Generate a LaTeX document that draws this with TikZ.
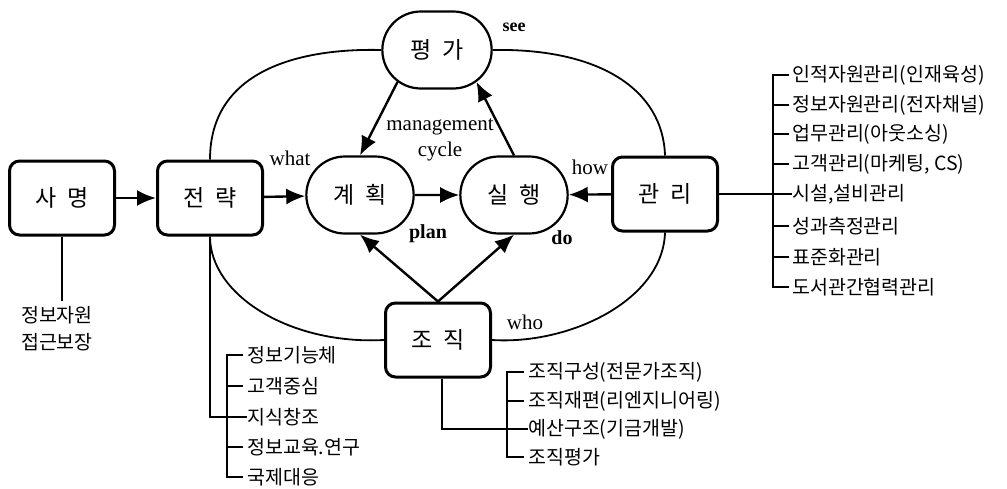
\documentclass[tikz,border=0pt]{standalone}
\usepackage{fontspec}
\setmainfont{Liberation Serif}
\newfontfamily\kr{Noto Sans CJK KR}
\usetikzlibrary{arrows.meta,shapes.misc}
\begin{document}
\begin{tikzpicture}[x=1pt,y=-1pt,>={Latex[length=19pt,width=16pt]},
  box/.style={draw,line width=3pt,rounded corners=10pt,minimum width=105pt,minimum height=74pt,font=\kr\fontsize{23}{26}\selectfont},
  cyc/.style={draw,rounded rectangle,line width=2.2pt,minimum width=114pt,minimum height=77pt,font=\kr\fontsize{23}{26}\selectfont},
  item/.style={anchor=west,inner sep=0pt,font=\kr\fontsize{19.5}{22}\selectfont},
  lbl/.style={font=\fontsize{21}{26}\selectfont},
  blbl/.style={font=\bfseries\fontsize{20}{24}\selectfont},
  arr/.style={->,line width=2.4pt},
  loopline/.style={line width=1.8pt},
  thin/.style={line width=1.1pt}]
\useasboundingbox (0,0) rectangle (1007,488);
% main nodes
\path
(62,198)  node[box] (sa) {사\hspace{0.45em}명}
(210,198) node[box] (jr) {전\hspace{0.45em}략}
(360,195) node[cyc] (gh) {계\hspace{0.45em}획}
(514,195) node[cyc] (sh) {실\hspace{0.45em}행}
(437,50)  node[cyc,minimum width=116pt] (pg) {평\hspace{0.45em}가}
(665,194) node[box] (gl) {관\hspace{0.45em}리}
(438,340) node[box] (jj) {조\hspace{0.45em}직};
% labels
\path
(514,27)  node[blbl,font=\bfseries\fontsize{18}{20}\selectfont] (see) {see}
(290,158) node[lbl] (what) {what}
(440,140) node[lbl,align=center] (mc) {management\\cycle}
(590,167) node[lbl] (how) {how}
(428,234) node[blbl] (plan) {plan}
(562,238) node[blbl] (do) {do}
(525,322) node[lbl] (who) {who};
% cycle arrows
\draw[arr] (sa)--(jr);
\draw[arr] (jr)--(gh);
\draw[arr] (gh)--(sh);
\draw[arr] (gl)--(sh);
\draw[arr] (pg.219)--(gh.north);
\draw[arr] (sh.north)--(pg.321);
\draw[arr] (jj.north)--(gh.south);
\draw[arr] (jj.north)--(sh.south);
% outer loop
\draw[loopline] (jr.north) .. controls (210,70) and (300,48) .. (pg.west);
\draw[loopline] (pg.east) .. controls (600,48) and (663,90) .. (gl.north);
\draw[loopline] (gl.south) .. controls (663,300) and (570,345) .. (jj.east);
\draw[loopline] (jj.west) .. controls (290,345) and (210,295) .. (jr.south);
% mission
\path (57,329) node[align=center,inner sep=6pt,font=\kr\fontsize{19.5}{27}\selectfont] (ma) {정보자원\\접근보장};
\draw[thin] (sa.south)--(sa.south |- ma.north);
% strategy list
\path
(247,355) node[item] (s1) {정보기능체}
(247,386) node[item] (s2) {고객중심}
(247,417) node[item] (s3) {지식창조}
(247,447) node[item] (s4) {정보교육.연구}
(247,477) node[item] (s5) {국제대응};
\draw[thin] (jr.south) |- (s3.west);
\draw[thin] ([xshift=-4]s1.west) -- ++(-16,0) |- ([xshift=-4]s5.west);
\draw[thin] ([xshift=-4]s2.west) -- ++(-16,0);
\draw[thin] ([xshift=-4]s4.west) -- ++(-16,0);
% organisation list
\path
(528,372) node[item] (o1) {조직구성(전문가조직)}
(528,401) node[item] (o2) {조직재편(리엔지니어링)}
(528,429) node[item] (o3) {예산구조(기금개발)}
(528,457) node[item] (o4) {조직평가};
\draw[thin] ([xshift=4]jj.south) |- (o3.west);
\draw[thin] ([xshift=-4]o1.west) -- ++(-17,0) |- ([xshift=-4]o4.west);
\draw[thin] ([xshift=-4]o2.west) -- ++(-17,0);
% management list
\path
(792,75)  node[item] (m1) {인적자원관리(인재육성)}
(792,105) node[item] (m2) {정보자원관리(전자채널)}
(792,134) node[item] (m3) {업무관리(아웃소싱)}
(792,164) node[item] (m4) {고객관리(마케팅, CS)}
(792,194) node[item] (m5) {시설,설비관리}
(792,226) node[item] (m6) {성과측정관리}
(792,257) node[item] (m7) {표준화관리}
(792,287) node[item] (m8) {도서관간협력관리};
\draw[thin] (gl.east) -- (m5.west);
\draw[thin] ([xshift=-3]m1.west) -- ++(-16,0) |- ([xshift=-3]m8.west);
\draw[thin] ([xshift=-3]m2.west) -- ++(-16,0);
\draw[thin] ([xshift=-3]m3.west) -- ++(-16,0);
\draw[thin] ([xshift=-3]m4.west) -- ++(-16,0);
\draw[thin] ([xshift=-3]m6.west) -- ++(-16,0);
\draw[thin] ([xshift=-3]m7.west) -- ++(-16,0);
\end{tikzpicture}
\end{document}
